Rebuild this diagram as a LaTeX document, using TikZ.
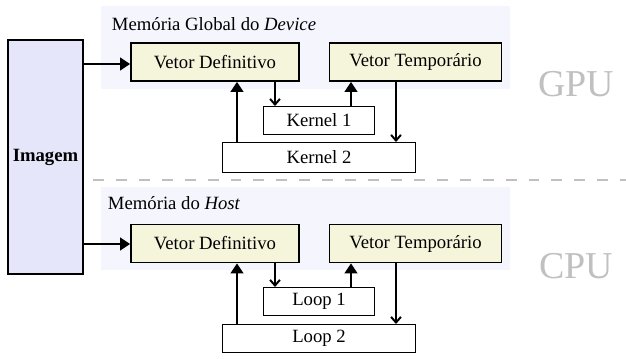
\documentclass[tikz,border=0pt]{standalone}
\usepackage{fontspec}
\setmainfont{Liberation Serif}
\newfontfamily\serifa{Liberation Serif}
\usetikzlibrary{arrows.meta}
\definecolor{imgfill}{HTML}{E6E6FA}
\definecolor{memfill}{HTML}{F5F6FD}
\definecolor{vecfill}{HTML}{F5F5DC}
\definecolor{pugray}{HTML}{C0C0C0}

\begin{document}
\begin{tikzpicture}[x=0.025cm,y=-0.025cm,font=\serifa\fontsize{13.3}{16}\selectfont,
  vetor/.style={draw,line width=1.3pt,fill=vecfill,inner sep=0pt,minimum width=#1,minimum height=0.95cm},
  laco/.style={draw,line width=0.7pt,fill=white,inner sep=0pt,minimum width=#1},
  sobe/.style={line width=1.4pt,-{Triangle[length=7pt,width=9pt]}},
  desce/.style={line width=1.4pt,-{Straight Barb[length=4pt,width=7pt]}},
  unidade/.style={text=pugray,font=\serifa\fontsize{27}{31}\selectfont}]
\useasboundingbox[fill=white] (0,0) rectangle (626,358);
% memory panels
\fill[memfill] (101,6) rectangle (510,89);
\fill[memfill] (101,187) rectangle (510,270);
\node[anchor=west] (memgpu) at (107,24) {Memória Global do \textit{Device}};
\node[anchor=west] (memcpu) at (103,203) {Memória do \textit{Host}};
\draw[pugray,line width=1.4pt,dash pattern=on 7.8pt off 8.5pt] (93,180)--(626,180);
\node[unidade] (gpu) at (576,84) {GPU};
\node[unidade] (cpu) at (576,266) {CPU};
\node[draw,line width=1.4pt,fill=imgfill,minimum width=1.85cm,minimum height=5.83cm,font=\serifa\fontsize{13.3}{16}\selectfont\bfseries] (img) at (45.5,157) {Imagem};
% GPU
\node[vetor=4.2cm] (vdg) at (215,62) {Vetor Definitivo};
\node[vetor=4.3cm] (vtg) at (415.5,62) {Vetor Temporário};
\node[laco=2.78cm,minimum height=0.7cm] (k1) at (319,120.5) {Kernel 1};
\node[laco=4.83cm,minimum height=0.75cm] (k2) at (319,157.5) {Kernel 2};
% CPU
\node[vetor=4.2cm] (vdc) at (215,243.5) {Vetor Definitivo};
\node[vetor=4.3cm] (vtc) at (415.5,243.5) {Vetor Temporário};
\node[laco=2.78cm,minimum height=0.7cm] (l1) at (319,301.5) {Loop 1};
\node[laco=4.83cm,minimum height=0.7cm] (l2) at (319,338.5) {Loop 2};
\draw[sobe] (img.east |- 0,64) -- (vdg.west |- 0,64);
\draw[sobe] (img.east |- 0,244) -- (vdc.west |- 0,244);
\draw[sobe] (k2.north -| 237,0) -- (vdg.south -| 237,0);
\draw[desce] (vdg.south -| 275,0) -- (k1.north -| 275,0);
\draw[sobe] (k1.north -| 351,0) -- (vtg.south -| 351,0);
\draw[desce] (vtg.south -| 396,0) -- (k2.north -| 396,0);
\draw[sobe] (l2.north -| 237,0) -- (vdc.south -| 237,0);
\draw[desce] (vdc.south -| 275,0) -- (l1.north -| 275,0);
\draw[sobe] (l1.north -| 351,0) -- (vtc.south -| 351,0);
\draw[desce] (vtc.south -| 396,0) -- (l2.north -| 396,0);
\end{tikzpicture}
\end{document}
